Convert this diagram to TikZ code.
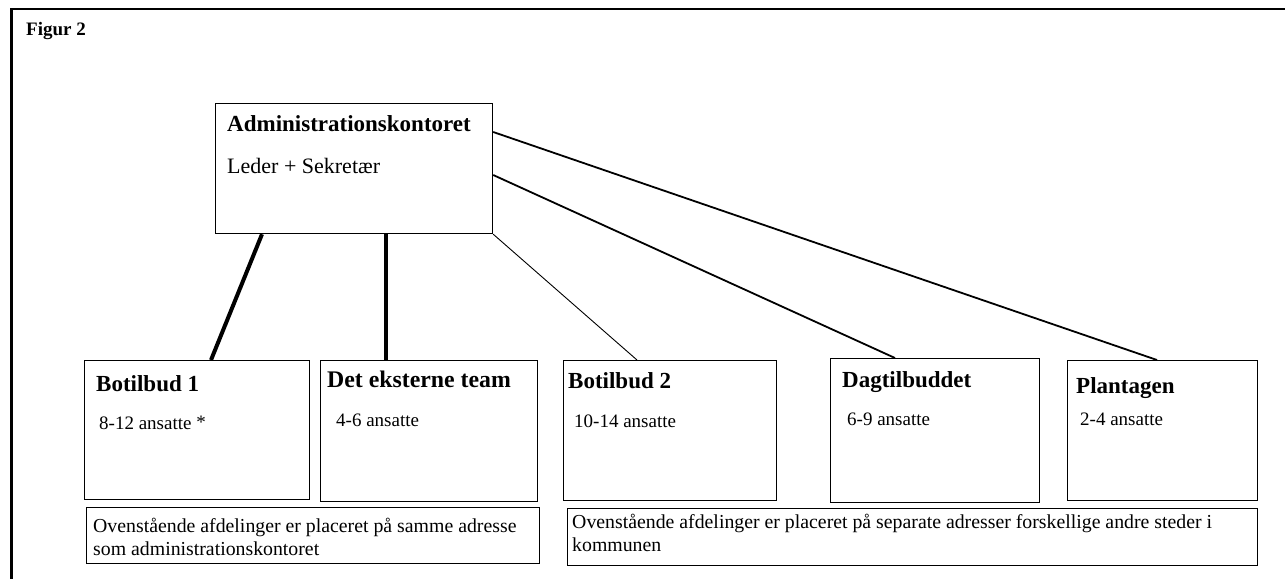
\documentclass[tikz,border=0pt]{standalone}
\usepackage{fontspec}
\setmainfont{Liberation Serif}
\usepackage{tikz}
\usetikzlibrary{positioning}

\tikzset{
  unitbox/.style={draw, line width=1.2pt, anchor=north west, inner sep=0pt},
  head/.style={font=\fontsize{23}{27}\selectfont\bfseries, inner sep=0pt, anchor=base west},
  staff/.style={font=\fontsize{19}{22}\selectfont, inner sep=0pt, anchor=base west},
  notetext/.style={font=\fontsize{19.8}{23}\selectfont, inner sep=0pt, anchor=base west, align=left},
  heavy/.style={line width=4pt},
  medium/.style={line width=1.8pt},
  fine/.style={line width=0.9pt}
}

\begin{document}
\begin{tikzpicture}[x=1pt, y=-1pt]
        \useasboundingbox (0,0) rectangle (1285,579);

        % Frame
        \draw[line width=2.2pt] (10,9) -- (1285,9);
        \draw[line width=3.3pt] (11.7,8) -- (11.7,579);
        \node[font=\fontsize{19}{22}\selectfont\bfseries, inner sep=0pt, anchor=base west] (fig) at (26,35) {Figur 2};

        % Define boxes
        \node[unitbox, minimum width=277pt, minimum height=130pt] (admin) at (215,103) {};
        \node[unitbox, minimum width=225pt, minimum height=139pt] (bot1) at (84,360) {};
        \node[unitbox, minimum width=217pt, minimum height=141pt] (det) at (320,360) {};
        \node[unitbox, minimum width=213pt, minimum height=140pt] (bot2) at (563,360) {};
        \node[unitbox, minimum width=209pt, minimum height=144pt] (dag) at (830,358) {};
        \node[unitbox, minimum width=190pt, minimum height=140pt] (plant) at (1067,360) {};
        \node[unitbox, minimum width=453pt, minimum height=56pt] (note1) at (86,507) {};
        \node[unitbox, minimum width=690pt, minimum height=57pt] (note2) at (567,508) {};

        % Texts
        \node[head] (admintitle) at ([shift={(12,28)}]admin.north west) {Administrationskontoret};
        \node[font=\fontsize{22}{26}\selectfont, inner sep=0pt, anchor=base west] (adminstaff) at ([shift={(12,70)}]admin.north west) {Leder + Sekretær};
        \node[head] (bot1title) at ([shift={(12,31)}]bot1.north west) {Botilbud 1};
        \node[staff] (bot1staff) at ([shift={(15,69)}]bot1.north west) {8-12 ansatte \raisebox{1pt}{*}};
        \node[head, font=\fontsize{23.8}{27}\selectfont\bfseries] (dettitle) at ([shift={(7,27)}]det.north west) {Det eksterne team};
        \node[staff] (detstaff) at ([shift={(16,66)}]det.north west) {4-6 ansatte};
        \node[head] (bot2title) at ([shift={(5,28)}]bot2.north west) {Botilbud 2};
        \node[staff] (bot2staff) at ([shift={(11,67)}]bot2.north west) {10-14 ansatte};
        \node[head] (dagtitle) at ([shift={(12,29)}]dag.north west) {Dagtilbuddet};
        \node[staff] (dagstaff) at ([shift={(17,67)}]dag.north west) {6-9 ansatte};
        \node[head] (planttitle) at ([shift={(9,33)}]plant.north west) {Plantagen};
        \node[staff] (plantstaff) at ([shift={(13,65)}]plant.north west) {2-4 ansatte};
        \node[notetext] (note1text) at ([shift={(7,48)}]note1.north west) {Ovenstående afdelinger er placeret på samme adresse\\som administrationskontoret};
        \node[notetext] (note2text) at ([shift={(5,43)}]note2.north west) {Ovenstående afdelinger er placeret på separate adresser forskellige andre steder i\\kommunen};

        % Connect the boxes
        \draw[heavy] ([xshift=47pt]admin.south west) -- ([xshift=127pt]bot1.north west);
        \draw[heavy] ([xshift=171pt]admin.south west) -- ([xshift=66pt]det.north west);
        \draw[fine] (admin.south east) -- ([xshift=74pt]bot2.north west);
        \draw[medium] ([yshift=-72pt]admin.north east) -- ([xshift=65pt]dag.north west);
        \draw[medium] ([yshift=-29pt]admin.north east) -- ([xshift=90pt]plant.north west);

    \end{tikzpicture}
\end{document}
